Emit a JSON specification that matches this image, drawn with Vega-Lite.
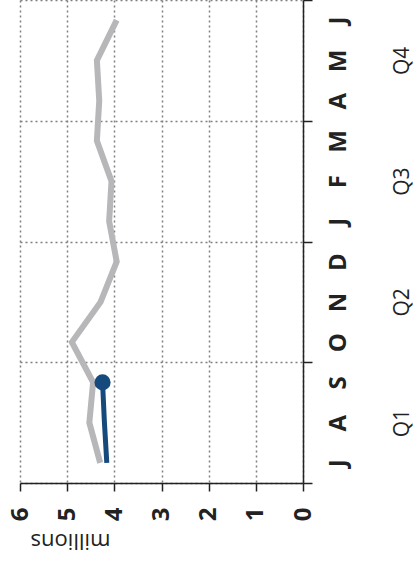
{
  "$schema": "https://vega.github.io/schema/vega-lite/v6.json",
  "width": 283,
  "height": 483,
  "autosize": "none",
  "padding": {"left": 20, "top": 0, "right": 112, "bottom": 79},
  "config": {"view": {"stroke": null}, "font": "Open Sans", "background": "white"},
  "data": {
    "values": [
      {"month": 1, "series": "prior", "value": 4.30},
      {"month": 2, "series": "prior", "value": 4.53},
      {"month": 3, "series": "prior", "value": 4.45},
      {"month": 4, "series": "prior", "value": 4.90},
      {"month": 5, "series": "prior", "value": 4.29},
      {"month": 6, "series": "prior", "value": 3.95},
      {"month": 7, "series": "prior", "value": 4.11},
      {"month": 8, "series": "prior", "value": 4.06},
      {"month": 9, "series": "prior", "value": 4.37},
      {"month": 10, "series": "prior", "value": 4.32},
      {"month": 11, "series": "prior", "value": 4.37},
      {"month": 12, "series": "prior", "value": 3.95},
      {"month": 1, "series": "current", "value": 4.16},
      {"month": 2, "series": "current", "value": 4.21},
      {"month": 3, "series": "current", "value": 4.25}
    ]
  },
  "encoding": {
    "x": {
      "field": "value",
      "type": "quantitative",
      "scale": {"domain": [0, 6], "reverse": true, "nice": false, "zero": false},
      "axis": {
        "values": [0, 1, 2, 3, 4, 5, 6],
        "title": "millions",
        "titleFontSize": 22,
        "titleFontWeight": "normal",
        "titleColor": "#222",
        "titleAngle": 180,
        "titleAnchor": "end",
        "titleAlign": "center",
        "titleX": 50,
        "titleBaseline": "alphabetic",
        "titlePadding": 13,
        "labelAngle": -90,
        "labelFontSize": 24,
        "labelFontWeight": "bold",
        "labelColor": "#222",
        "labelPadding": 16,
        "tickSize": 8,
        "tickColor": "#222",
        "tickWidth": 1.5,
        "domainColor": "#222",
        "domainWidth": 1.5,
        "grid": true,
        "gridDash": [2, 3],
        "gridColor": "#808080",
        "gridWidth": 1.5
      }
    },
    "order": {"field": "month", "type": "quantitative"}
  },
  "layer": [
    {
      "transform": [{"filter": "datum.series == 'prior'"}],
      "mark": {"type": "line", "color": "#b7b7ba", "strokeWidth": 6},
      "encoding": {
        "y": {
          "field": "month",
          "type": "quantitative",
          "scale": {"domain": [0.5, 12.5], "nice": false, "zero": false},
          "axis": {
            "orient": "right",
            "values": [0.5, 3.5, 6.5, 9.5, 12.5],
            "labels": false,
            "title": null,
            "tickSize": 9,
            "tickColor": "#222",
            "tickWidth": 1.5,
            "domainColor": "#222",
            "domainWidth": 1.5,
            "grid": true,
            "gridDash": [2, 3],
            "gridColor": "#808080",
            "gridWidth": 1.5
          }
        }
      }
    },
    {
      "transform": [{"filter": "datum.series == 'current'"}],
      "mark": {"type": "line", "color": "#174a7c", "strokeWidth": 5},
      "encoding": {
        "y": {
          "field": "month",
          "type": "quantitative",
          "scale": {"domain": [0.5, 12.5], "nice": false, "zero": false},
          "axis": {
            "orient": "right",
            "values": [1, 2, 3, 4, 5, 6, 7, 8, 9, 10, 11, 12],
            "labelExpr": "['J','A','S','O','N','D','J','F','M','A','M','J'][datum.value - 1]",
            "title": null,
            "ticks": false,
            "domain": false,
            "grid": false,
            "labelAngle": -90,
            "labelFontSize": 24,
            "labelFontWeight": "bold",
            "labelColor": "#222",
            "labelPadding": 23
          }
        }
      }
    },
    {
      "transform": [{"filter": "datum.series == 'current' && datum.month == 3"}],
      "mark": {"type": "point", "filled": true, "color": "#174a7c", "opacity": 1, "size": 260},
      "encoding": {
        "y": {
          "field": "month",
          "type": "quantitative",
          "scale": {"domain": [0.5, 12.5], "nice": false, "zero": false},
          "axis": {
            "orient": "right",
            "values": [2, 5, 8, 11],
            "labelExpr": "'Q' + ((datum.value + 1) / 3)",
            "title": null,
            "ticks": false,
            "domain": false,
            "grid": false,
            "labelAngle": -90,
            "labelFontSize": 21,
            "labelFontWeight": "normal",
            "labelColor": "#222",
            "labelPadding": 88
          }
        }
      }
    }
  ],
  "resolve": {"axis": {"y": "independent"}}
}
